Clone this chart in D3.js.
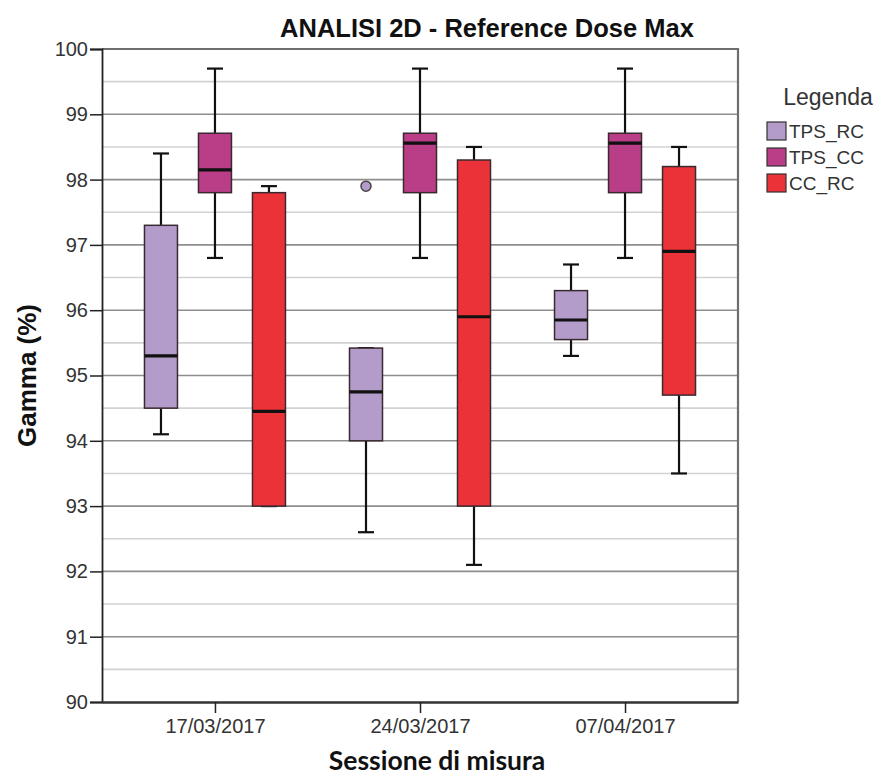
<!DOCTYPE html>
<html><head><meta charset="utf-8">
<script src="https://cdn.jsdelivr.net/npm/d3@7"></script>
<style>body{margin:0;background:#fff}svg{display:block}</style>
</head><body>
<svg id="c" width="890" height="778"></svg>
<script>
const categories = ["17/03/2017","24/03/2017","07/04/2017"];
const seriesNames = ["TPS_RC","TPS_CC","CC_RC"];
const seriesColors = ["#b39cca","#b93d87","#eb3239"];
const yTicks = [90,91,92,93,94,95,96,97,98,99,100];
// five-number summaries per category
const TPS_RC_min = [94.1, 92.6, 95.3];
const TPS_RC_q1  = [94.5, 94.0, 95.55];
const TPS_RC_med = [95.3, 94.75, 95.85];
const TPS_RC_q3  = [97.3, 95.42, 96.3];
const TPS_RC_max = [98.4, 95.42, 96.7];
const TPS_RC_outliers = [["24/03/2017", 97.9]];
const TPS_CC_min = [96.8, 96.8, 96.8];
const TPS_CC_q1  = [97.8, 97.8, 97.8];
const TPS_CC_med = [98.15, 98.56, 98.56];
const TPS_CC_q3  = [98.71, 98.71, 98.71];
const TPS_CC_max = [99.7, 99.7, 99.7];
const CC_RC_min = [93.0, 92.1, 93.5];
const CC_RC_q1  = [93.0, 93.0, 94.7];
const CC_RC_med = [94.45, 95.9, 96.9];
const CC_RC_q3  = [97.8, 98.3, 98.2];
const CC_RC_max = [97.9, 98.5, 98.5];

const stats = [
  {min:TPS_RC_min,q1:TPS_RC_q1,med:TPS_RC_med,q3:TPS_RC_q3,max:TPS_RC_max,out:TPS_RC_outliers},
  {min:TPS_CC_min,q1:TPS_CC_q1,med:TPS_CC_med,q3:TPS_CC_q3,max:TPS_CC_max,out:[]},
  {min:CC_RC_min,q1:CC_RC_q1,med:CC_RC_med,q3:CC_RC_q3,max:CC_RC_max,out:[]}
];

const L=102,R=738,T=49,B=702;
const svg = d3.select("#c");
const y = d3.scaleLinear().domain([90,100]).range([B,T]);
const x = d3.scalePoint().domain(categories).range([L,R]).padding(0.551);
const sub = d3.scalePoint().domain(seriesNames).range([-54,54]);
const bw = 33, cap = 16;
const FF = "'Liberation Sans',Arial,sans-serif";

// grid
const minor = d3.range(90.5,100,1);
svg.append("g").selectAll("line").data(minor).join("line")
  .attr("x1",L).attr("x2",R).attr("y1",d=>y(d)).attr("y2",d=>y(d))
  .attr("stroke","#d2d2d2").attr("stroke-width",1.6);
svg.append("g").selectAll("line").data(yTicks.slice(1,-1)).join("line")
  .attr("x1",L).attr("x2",R).attr("y1",d=>y(d)).attr("y2",d=>y(d))
  .attr("stroke","#8e8e8e").attr("stroke-width",1.6);
// frame top/right
svg.append("path").attr("d",`M${L},${T}H${R}V${B}`).attr("fill","none")
  .attr("stroke","#6e6e6e").attr("stroke-width",2.2);

// boxes
const g = svg.append("g");
stats.forEach((s,si)=>{
  const name = seriesNames[si];
  categories.forEach((c,ci)=>{
    const cx = x(c)+sub(name);
    const gg = g.append("g");
    gg.append("line").attr("x1",cx).attr("x2",cx).attr("y1",y(s.max[ci])).attr("y2",y(s.q3[ci]))
      .attr("stroke","#111").attr("stroke-width",2.2);
    gg.append("line").attr("x1",cx).attr("x2",cx).attr("y1",y(s.q1[ci])).attr("y2",y(s.min[ci]))
      .attr("stroke","#111").attr("stroke-width",2.2);
    [s.max[ci],s.min[ci]].forEach(v=>{
      gg.append("line").attr("x1",cx-cap/2).attr("x2",cx+cap/2).attr("y1",y(v)).attr("y2",y(v))
        .attr("stroke","#111").attr("stroke-width",2.2);
    });
    gg.append("rect").attr("x",cx-bw/2).attr("width",bw)
      .attr("y",y(s.q3[ci])).attr("height",y(s.q1[ci])-y(s.q3[ci]))
      .attr("fill",seriesColors[si]).attr("stroke","#3a2a30").attr("stroke-width",1.5);
    gg.append("line").attr("x1",cx-bw/2).attr("x2",cx+bw/2).attr("y1",y(s.med[ci])).attr("y2",y(s.med[ci]))
      .attr("stroke","#111").attr("stroke-width",3.2);
  });
  s.out.forEach(([c,v])=>{
    g.append("circle").attr("cx",x(c)+sub(name)).attr("cy",y(v)).attr("r",5)
      .attr("fill",seriesColors[si]).attr("stroke","#444").attr("stroke-width",1.5);
  });
});

// axes
const yAxis = svg.append("g").attr("transform",`translate(${L},0)`)
  .call(d3.axisLeft(y).tickValues(yTicks).tickFormat(d3.format("d")).tickSize(12).tickPadding(2));
yAxis.select(".domain").attr("stroke","#222").attr("stroke-width",1.8);
yAxis.selectAll(".tick line").attr("stroke","#222").attr("stroke-width",1.5);
yAxis.selectAll("text").attr("font-family",FF).attr("font-size",20).attr("fill","#333");

const xAxis = svg.append("g").attr("transform",`translate(0,${B})`)
  .call(d3.axisBottom(x).tickSize(11).tickPadding(6).tickSizeOuter(0));
xAxis.select(".domain").attr("stroke","#333").attr("stroke-width",2.4);
xAxis.selectAll(".tick line").attr("stroke","#222").attr("stroke-width",1.5);
xAxis.selectAll("text").attr("font-family",FF).attr("font-size",20).attr("fill","#333");

// titles
svg.append("text").attr("x",487).attr("y",37).attr("text-anchor","middle")
  .attr("font-family",FF).attr("font-weight","bold")
  .attr("font-size",25.5).attr("fill","#111").text("ANALISI 2D - Reference Dose Max");
svg.append("text").attr("transform",`translate(36,${(T+B)/2}) rotate(-90)`).attr("text-anchor","middle")
  .attr("font-family",FF).attr("font-weight","bold")
  .attr("font-size",26).attr("fill","#111").text("Gamma (%)");
svg.append("text").attr("x",437).attr("y",770).attr("text-anchor","middle")
  .attr("font-family","Lato,'Open Sans',sans-serif").attr("font-weight","bold")
  .attr("font-size",26.5).attr("fill","#111").text("Sessione di misura");

// legend
const lg = svg.append("g");
lg.append("text").attr("x",828).attr("y",105).attr("text-anchor","middle")
  .attr("font-family",FF).attr("font-size",23).attr("fill","#333").text("Legenda");
seriesNames.forEach((n,i)=>{
  const yy = 122 + i*26;
  lg.append("rect").attr("x",767).attr("y",yy).attr("width",19).attr("height",18)
    .attr("fill",seriesColors[i]).attr("stroke","#333").attr("stroke-width",1.2);
  lg.append("text").attr("x",789).attr("y",yy+16)
    .attr("font-family",FF).attr("font-size",19).attr("fill","#333").text(n);
});
</script>
</body></html>
